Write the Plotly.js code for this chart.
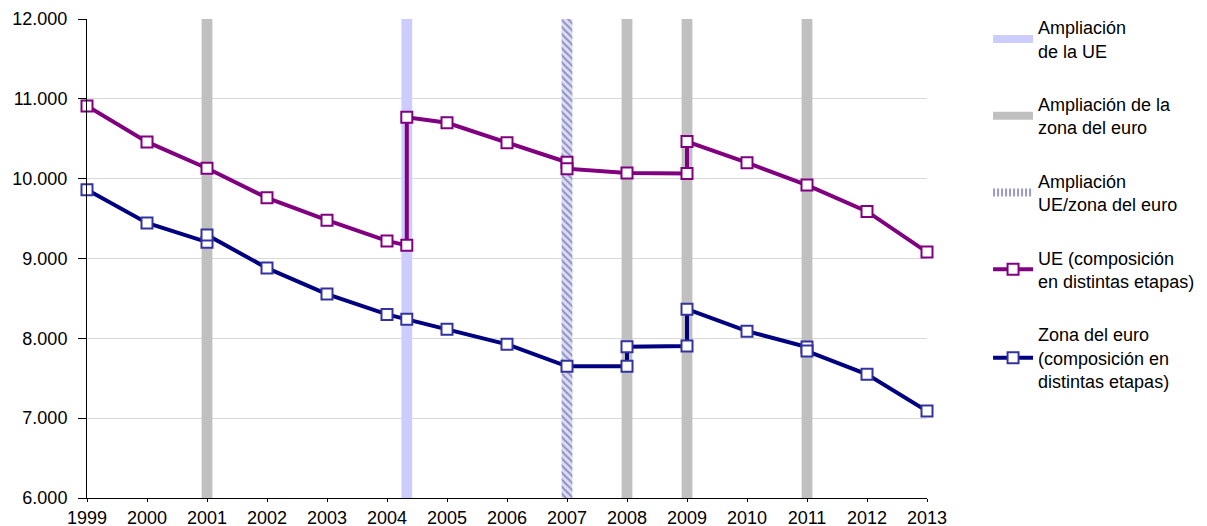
<!DOCTYPE html>
<html>
<head>
<meta charset="utf-8">
<script src="https://cdn.plot.ly/plotly-3.0.1.min.js"></script>
<style>html,body{margin:0;padding:0;background:#fff;}#chart{width:1207px;height:526px;}</style>
</head>
<body>
<div id="chart"></div>
<script>
// Enlargement markers (vertical bands)
const euEnlargeX = [2004.33];
const euroEnlargeX = [2001, 2008, 2009, 2011];
const bothEnlargeX = [2007];
const spanLow = 6000;
const spanHigh = 12000;

// EU (changing composition)
const ueX = [1999, 2000, 2001, 2002, 2003, 2004, 2004.33, 2004.33, 2005, 2006, 2007, 2007, 2008, 2009, 2009, 2010, 2011, 2012, 2013];
const ueY = [10910, 10460, 10130, 9760, 9480, 9220, 9165, 10770, 10700, 10450, 10205, 10125, 10070, 10065, 10465, 10200, 9920, 9590, 9080];

// Euro area (changing composition)
const ezX = [1999, 2000, 2001, 2001, 2002, 2003, 2004, 2004.33, 2005, 2006, 2007, 2008, 2008, 2009, 2009, 2010, 2011, 2011, 2012, 2013];
const ezY = [9860, 9445, 9205, 9295, 8880, 8555, 8300, 8240, 8115, 7925, 7650, 7650, 7895, 7905, 8365, 8090, 7890, 7840, 7550, 7090];

const names = [
  'Ampliación<br>de la UE',
  'Ampliación de la<br>zona del euro',
  'Ampliación<br>UE/zona del euro',
  'UE (composición<br>en distintas etapas)',
  'Zona del euro<br>(composición en<br>distintas etapas)'
];

const hatch = {shape: '\\', fgcolor: '#8f8fc4', bgcolor: '#dcdcf2', size: 5, solidity: 0.4};

function band(xs, color, pattern) {
  const t = {
    type: 'bar', x: xs, y: xs.map(() => spanHigh - spanLow), base: spanLow,
    width: 0.18, showlegend: false,
    marker: {color: color, line: {width: 0}},
    hoverinfo: 'skip'
  };
  if (pattern) t.marker.pattern = pattern;
  return t;
}
// legend-only entries for the bands (no data drawn)
function legendBand(name, color, group, dash) {
  return {
    type: 'scatter', mode: 'lines', x: [null], y: [null], name: name, legendgroup: group,
    line: {color: color, width: 8, dash: dash || 'solid'}, hoverinfo: 'skip'
  };
}

const traces = [
  band(euEnlargeX, '#ccccff'),
  band(euroEnlargeX, '#c0c0c0'),
  band(bothEnlargeX, '#d4d4ee', hatch),
  legendBand(names[0], '#ccccff', 'g1'),
  legendBand(names[1], '#c0c0c0', 'g2'),
  legendBand(names[2], '#9a9acc', 'g3', '2px,2px'),
  {
    type: 'scatter', mode: 'lines+markers', x: ueX, y: ueY, name: names[3], legendgroup: 'g4',
    line: {color: '#800080', width: 4},
    marker: {symbol: 'square', size: 11, color: '#ffffff', line: {color: '#800080', width: 2}},
    cliponaxis: false
  },
  {
    type: 'scatter', mode: 'lines+markers', x: ezX, y: ezY, name: names[4], legendgroup: 'g5',
    line: {color: '#000080', width: 4},
    marker: {symbol: 'square', size: 11, color: '#ffffff', line: {color: '#3333a0', width: 2}},
    cliponaxis: false
  }
];

const layout = {
  width: 1207, height: 526,
  margin: {l: 87, r: 280, t: 19, b: 28, autoexpand: false},
  paper_bgcolor: '#ffffff', plot_bgcolor: '#ffffff',
  separators: ',.',
  font: {family: '"Liberation Sans", Arial, sans-serif', size: 18, color: '#000000'},
  barmode: 'overlay',
  showlegend: true,
  legend: {
    xref: 'container', yref: 'container',
    x: 0.8186, y: 0.9829, xanchor: 'left', yanchor: 'top',
    maxheight: 520,
    traceorder: 'grouped', tracegroupgap: 27,
    font: {size: 18, color: '#000000'},
    bgcolor: 'rgba(0,0,0,0)', itemwidth: 40
  },
  xaxis: {
    range: [1999, 2013], dtick: 1, tick0: 1999, tickformat: 'd',
    showgrid: false, zeroline: false, showline: true, linecolor: '#000000', linewidth: 1,
    ticks: 'outside', ticklen: 3, tickcolor: '#000000',
    tickfont: {size: 18}, fixedrange: true
  },
  yaxis: {
    range: [6000, 12000], dtick: 1000, tickformat: ',.0f',
    showgrid: true, gridcolor: '#d9d9d9', gridwidth: 1,
    zeroline: false, showline: true, linecolor: '#000000', linewidth: 1,
    ticks: 'outside', ticklen: 8, tickcolor: '#000000', ticklabelstandoff: 7,
    tickfont: {size: 18}, fixedrange: true
  }
};

Plotly.newPlot('chart', traces, layout, {displayModeBar: false, staticPlot: true});
</script>
</body>
</html>
